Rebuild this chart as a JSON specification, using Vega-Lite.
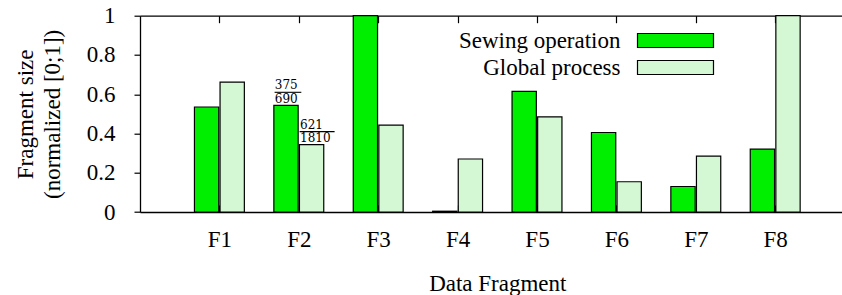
{
  "$schema": "https://vega.github.io/schema/vega-lite/v6.json",
  "width": 702,
  "height": 196.3,
  "autosize": {"type": "none"},
  "padding": {"left": 140, "top": 15.7, "right": 0, "bottom": 83},
  "config": {
    "view": {"stroke": null},
    "font": "Liberation Serif",
    "axis": {
      "labelFont": "Liberation Serif",
      "titleFont": "Liberation Serif",
      "labelColor": "black",
      "titleColor": "black",
      "domainColor": "black",
      "tickColor": "black",
      "domainWidth": 1.3,
      "tickWidth": 1.2,
      "grid": false,
      "labelFontSize": 23,
      "titleFontSize": 23,
      "titleFontWeight": "normal",
      "labelOverlap": false,
      "labelFlush": false
    }
  },
  "datasets": {
    "bars": [
      {"fragment": "F1", "series": "Sewing operation", "value": 0.535},
      {"fragment": "F2", "series": "Sewing operation", "value": 0.5435},
      {"fragment": "F3", "series": "Sewing operation", "value": 1.0},
      {"fragment": "F4", "series": "Sewing operation", "value": 0.004},
      {"fragment": "F5", "series": "Sewing operation", "value": 0.615},
      {"fragment": "F6", "series": "Sewing operation", "value": 0.405},
      {"fragment": "F7", "series": "Sewing operation", "value": 0.13},
      {"fragment": "F8", "series": "Sewing operation", "value": 0.32},
      {"fragment": "F1", "series": "Global process", "value": 0.662},
      {"fragment": "F2", "series": "Global process", "value": 0.3431},
      {"fragment": "F3", "series": "Global process", "value": 0.443},
      {"fragment": "F4", "series": "Global process", "value": 0.27},
      {"fragment": "F5", "series": "Global process", "value": 0.485},
      {"fragment": "F6", "series": "Global process", "value": 0.154},
      {"fragment": "F7", "series": "Global process", "value": 0.285},
      {"fragment": "F8", "series": "Global process", "value": 1.0}
    ],
    "notes": [
      {"fragment": "F2", "series": "Sewing operation", "value": 0.5435, "num": "375", "den": "690"},
      {"fragment": "F2", "series": "Global process", "value": 0.3431, "num": "621", "den": "1810"}
    ]
  },
  "encoding": {
    "y": {
      "field": "value", "type": "quantitative",
      "scale": {"domain": [0, 1], "nice": false},
      "axis": {"values": [0, 0.2, 0.4, 0.6, 0.8, 1], "format": "~g", "tickSize": 6, "labelPadding": 19,
               "labelOverlap": false, "labelFlush": false, "labelBound": false,
               "title": ["Fragment size", "(normalized [0;1])"], "titlePadding": 22, "titleLineHeight": 27}
    }
  },
  "resolve": {"axis": {"x": "independent"}},
  "layer": [
    {
      "data": {"name": "bars"},
      "transform": [{"filter": "datum.series === 'Sewing operation'"}],
      "mark": {"type": "bar", "width": 24.3, "xOffset": -12.8, "stroke": "black", "strokeWidth": 1.2},
      "encoding": {
        "x": {
          "field": "fragment", "type": "nominal",
          "scale": {"type": "point", "domain": ["F1", "F2", "F3", "F4", "F5", "F6", "F7", "F8"], "range": [0, 714.6], "padding": 1},
          "axis": {"orient": "bottom", "tickSize": -7, "labelPadding": 23, "labelAngle": 0, "title": "Data Fragment", "titlePadding": 21}
        },
        "color": {
          "field": "series", "type": "nominal",
          "scale": {"domain": ["Sewing operation", "Global process"], "range": ["#00ee00", "#d4f8d4"]},
          "legend": {
            "orient": "none", "legendX": 520.5, "legendY": 9.8, "padding": 0, "rowPadding": 0, "title": null,
            "symbolType": "M-2.714,-0.5H2.714V0.5H-2.714Z", "symbolSize": 784,
            "symbolStrokeColor": "black", "symbolStrokeWidth": 1.2, "symbolOpacity": 1,
            "labelOffset": -70, "labelAlign": "right", "labelFont": "Liberation Serif", "labelFontSize": 23,
            "labelColor": "black", "labelLimit": 400
          }
        }
      }
    },
    {
      "data": {"name": "bars"},
      "transform": [{"filter": "datum.series === 'Global process'"}],
      "mark": {"type": "bar", "width": 24.3, "xOffset": 12.8, "stroke": "black", "strokeWidth": 1.2},
      "encoding": {
        "x": {
          "field": "fragment", "type": "nominal",
          "axis": {"orient": "top", "tickSize": -7, "labels": false, "title": null}
        },
        "color": {"field": "series", "type": "nominal"}
      }
    },
    {
      "data": {"name": "notes"},
      "transform": [{"filter": "datum.series === 'Sewing operation'"}],
      "layer": [
        {
          "mark": {"type": "text", "align": "left", "baseline": "alphabetic", "dx": -24, "dy": -16.5, "font": "DejaVu Serif", "fontSize": 12, "color": "black"},
          "encoding": {
            "x": {"field": "fragment", "type": "nominal", "axis": null},
            "text": {"field": "num"}
          }
        },
        {
          "mark": {"type": "text", "align": "left", "baseline": "alphabetic", "dx": -24, "dy": -2.5, "font": "DejaVu Serif", "fontSize": 12, "color": "black"},
          "encoding": {
            "x": {"field": "fragment", "type": "nominal", "axis": null},
            "text": {"field": "den"}
          }
        },
        {
          "mark": {"type": "rule", "xOffset": -24.2, "x2Offset": 2.5, "yOffset": -13, "strokeWidth": 1.1, "color": "black"},
          "encoding": {
            "x": {"field": "fragment", "type": "nominal", "axis": null},
            "x2": {"field": "fragment"}
          }
        }
      ]
    },
    {
      "data": {"name": "notes"},
      "transform": [{"filter": "datum.series === 'Global process'"}],
      "layer": [
        {
          "mark": {"type": "text", "align": "left", "baseline": "alphabetic", "dx": 1.2, "dy": -15.5, "font": "DejaVu Serif", "fontSize": 12, "color": "black"},
          "encoding": {
            "x": {"field": "fragment", "type": "nominal", "axis": null},
            "text": {"field": "num"}
          }
        },
        {
          "mark": {"type": "text", "align": "left", "baseline": "alphabetic", "dx": 1.2, "dy": -2.5, "font": "DejaVu Serif", "fontSize": 12, "color": "black"},
          "encoding": {
            "x": {"field": "fragment", "type": "nominal", "axis": null},
            "text": {"field": "den"}
          }
        },
        {
          "mark": {"type": "rule", "xOffset": 0.8, "x2Offset": 35.8, "yOffset": -13, "strokeWidth": 1.1, "color": "black"},
          "encoding": {
            "x": {"field": "fragment", "type": "nominal", "axis": null},
            "x2": {"field": "fragment"}
          }
        }
      ]
    }
  ]
}
